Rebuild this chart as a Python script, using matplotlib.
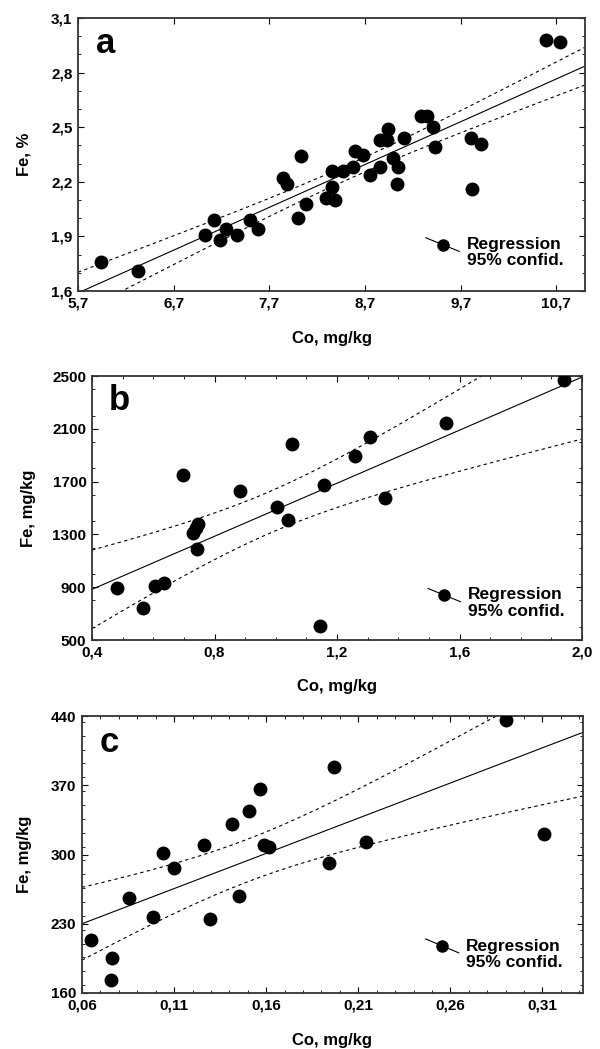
import numpy as np
import matplotlib
matplotlib.use('Agg')
import matplotlib.pyplot as plt
from matplotlib.ticker import MultipleLocator, FuncFormatter

plt.rcParams['font.family'] = ['Liberation Sans', 'DejaVu Sans']
plt.rcParams['font.weight'] = 'bold'

# panel a: Co (mg/kg) vs Fe (%)
co_a = [5.94, 6.33, 7.03, 7.12, 7.18, 7.25, 7.36, 7.50, 7.58, 7.84,
        7.89, 8.00, 8.03, 8.08, 8.29, 8.35, 8.39, 8.35, 8.47, 8.57,
        8.60, 8.68, 8.75, 8.86, 8.86, 8.93, 8.94, 8.99, 9.05, 9.03,
        9.11, 9.29, 9.35, 9.41, 9.43, 9.81, 9.91, 9.82, 10.59, 10.74]
fe_a = [1.76, 1.71, 1.91, 1.99, 1.88, 1.94, 1.91, 1.99, 1.94, 2.22,
        2.19, 2.00, 2.34, 2.08, 2.11, 2.17, 2.10, 2.26, 2.26, 2.28,
        2.37, 2.35, 2.24, 2.28, 2.43, 2.43, 2.49, 2.33, 2.28, 2.19,
        2.44, 2.56, 2.56, 2.50, 2.39, 2.44, 2.41, 2.16, 2.98, 2.97]

# panel b: Co (mg/kg) vs Fe (mg/kg)
co_b = [0.48, 0.565, 0.605, 0.635, 0.696, 0.729, 0.74, 0.745, 0.743, 0.883,
        1.003, 1.04, 1.054, 1.157, 1.144, 1.26, 1.308, 1.358, 1.556, 1.94]
fe_b = [896, 743, 909, 931, 1748, 1307, 1350, 1380, 1187, 1628,
        1510, 1407, 1984, 1671, 605, 1894, 2039, 1573, 2142, 2468]

# panel c
co_c = [0.0649, 0.0762, 0.0757, 0.0856, 0.0985, 0.1042, 0.1098, 0.126, 0.1295, 0.1416,
        0.1454, 0.1506, 0.1566, 0.1588, 0.1615, 0.1968, 0.1941, 0.214, 0.2903, 0.311]
fe_c = [214, 195, 173, 256, 237, 302, 286, 310, 235, 331,
        258, 344, 366, 310, 308, 388, 291, 313, 436, 321]

# t(0.975, n-2)
t_a, t_b, t_c = 2.024, 2.101, 2.101


def comma(fmt):
    return FuncFormatter(lambda v, p: (fmt % v).replace('.', ','))


def draw_panel(ax, x, y, t, xlim, ylim, letter):
    x = np.array(x, float)
    y = np.array(y, float)
    n = len(x)
    # linear regression + 95% confidence band for the mean
    b, a = np.polyfit(x, y, 1)
    resid = y - (a + b * x)
    s = np.sqrt(np.sum(resid ** 2) / (n - 2))
    sxx = np.sum((x - x.mean()) ** 2)
    xx = np.linspace(xlim[0], xlim[1], 200)
    yy = a + b * xx
    half = t * s * np.sqrt(1.0 / n + (xx - x.mean()) ** 2 / sxx)

    ax.plot(xx, yy, color='black', lw=0.8)
    ax.plot(xx, yy + half, color='black', lw=0.8, ls=(0, (3, 3)))
    ax.plot(xx, yy - half, color='black', lw=0.8, ls=(0, (3, 3)))
    ax.plot(x, y, 'o', color='black', ms=9, zorder=3)

    ax.set_xlim(*xlim)
    ax.set_ylim(*ylim)
    ax.text(0.035, 0.87, letter, transform=ax.transAxes, fontsize=25,
            fontweight='bold')

    # legend drawn by hand: slanted line with dot
    ax.plot([0.686, 0.752], [0.195, 0.145], color='black', lw=0.8,
            transform=ax.transAxes, clip_on=False)
    ax.plot([0.719], [0.17], 'o', color='black', ms=8, transform=ax.transAxes)
    ax.text(0.767, 0.14, 'Regression\n95% confid.', transform=ax.transAxes,
            fontsize=12.5, fontweight='bold', va='center', ha='left',
            linespacing=1.1)

    for sp in ax.spines.values():
        sp.set_linewidth(1.3)
        sp.set_color('#333333')
    ax.tick_params(which='both', direction='in', top=True, right=True,
                   labelsize=11, pad=4)
    ax.tick_params(which='major', length=4)
    ax.tick_params(which='minor', length=2)


fig = plt.figure(figsize=(6, 10.49), dpi=100)
H = 1049.0


def add_axes(l, r, t, b):
    return fig.add_axes([l / 600.0, 1 - b / H, (r - l) / 600.0, (b - t) / H])


ax_a = add_axes(78, 585, 18, 291)
draw_panel(ax_a, co_a, fe_a, t_a, (5.7, 11.0), (1.6, 3.1), 'a')
ax_a.set_xticks([5.7, 6.7, 7.7, 8.7, 9.7, 10.7])
ax_a.yaxis.set_minor_locator(MultipleLocator(0.1))
ax_a.set_yticks([1.6, 1.9, 2.2, 2.5, 2.8, 3.1])
ax_a.xaxis.set_major_formatter(comma('%.1f'))
ax_a.yaxis.set_major_formatter(comma('%.1f'))
ax_a.set_xlabel('Co, mg/kg', fontsize=12, fontweight='bold', labelpad=15)
ax_a.set_ylabel('Fe, %', fontsize=12, fontweight='bold', labelpad=14)

ax_b = add_axes(92, 582, 376, 640)
draw_panel(ax_b, co_b, fe_b, t_b, (0.4, 2.0), (500, 2500), 'b')
ax_b.set_xticks([0.4, 0.8, 1.2, 1.6, 2.0])
ax_b.xaxis.set_minor_locator(MultipleLocator(0.1))
ax_b.set_yticks([500, 900, 1300, 1700, 2100, 2500])
ax_b.yaxis.set_minor_locator(MultipleLocator(200))
ax_b.xaxis.set_major_formatter(comma('%.1f'))
ax_b.set_xlabel('Co, mg/kg', fontsize=12, fontweight='bold', labelpad=14)
ax_b.set_ylabel('Fe, mg/kg', fontsize=12, fontweight='bold', labelpad=12)

ax_c = add_axes(82, 583, 716, 993)
draw_panel(ax_c, co_c, fe_c, t_c, (0.06, 0.332), (160, 440), 'c')
ax_c.set_xticks([0.06, 0.11, 0.16, 0.21, 0.26, 0.31])
ax_c.xaxis.set_minor_locator(MultipleLocator(0.01))
ax_c.set_yticks([160, 230, 300, 370, 440])
ax_c.yaxis.set_minor_locator(MultipleLocator(14))
ax_c.xaxis.set_major_formatter(comma('%.2f'))
ax_c.set_xlabel('Co, mg/kg', fontsize=12, fontweight='bold', labelpad=15)
ax_c.set_ylabel('Fe, mg/kg', fontsize=12, fontweight='bold', labelpad=14)

fig.savefig('out.png', dpi=100)
